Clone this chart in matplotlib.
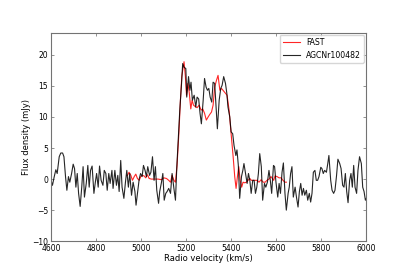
import matplotlib
matplotlib.use('agg')
from matplotlib import pyplot as plt

# AGCNr100482 spectrum (km/s, mJy)
AGC_VEL = [4603, 4607, 4615, 4622, 4628, 4637, 4644, 4652, 4658, 4665, 4671, 4678,
           4684, 4692, 4699, 4705, 4711, 4717, 4723, 4730, 4737, 4743, 4749, 4757,
           4764, 4770, 4776, 4783, 4791, 4797, 4803, 4810, 4816, 4823, 4831, 4837,
           4844, 4850, 4857, 4863, 4871, 4876, 4884, 4891, 4897, 4903, 4910, 4916,
           4924, 4931, 4937, 4944, 4950, 4958, 4965, 4973, 4978, 4986, 4992, 4998,
           5005, 5011, 5018, 5024, 5030, 5038, 5044, 5051, 5058, 5064, 5070, 5078,
           5083, 5091, 5097, 5103, 5110, 5116, 5123, 5131, 5138, 5146, 5153, 5159,
           5165, 5172, 5180, 5185, 5191, 5199, 5203, 5211, 5217, 5222, 5228, 5236,
           5243, 5249, 5256, 5262, 5268, 5276, 5282, 5289, 5295, 5301, 5307, 5314,
           5320, 5327, 5333, 5339, 5347, 5354, 5360, 5367, 5375, 5381, 5386, 5394,
           5400, 5407, 5413, 5421, 5426, 5432, 5438, 5446, 5452, 5457, 5463, 5471,
           5477, 5483, 5489, 5496, 5502, 5508, 5514, 5521, 5527, 5534, 5540, 5548,
           5554, 5561, 5568, 5574, 5580, 5588, 5593, 5599, 5607, 5613, 5619, 5626,
           5632, 5639, 5645, 5653, 5658, 5664, 5670, 5676, 5684, 5690, 5697, 5703,
           5709, 5715, 5721, 5727, 5734, 5740, 5747, 5753, 5759, 5765, 5772, 5778,
           5784, 5790, 5798, 5803, 5809, 5815, 5823, 5829, 5834, 5842, 5848, 5855,
           5861, 5868, 5874, 5882, 5888, 5895, 5901, 5907, 5913, 5919, 5926, 5932,
           5938, 5944, 5950, 5957, 5963, 5970, 5978, 5984, 5990, 5996, 6000]
AGC_FLUX = [-0.5, -1.0, 0.4, 1.5, 0.9, 3.6, 4.2, 4.2, 3.6, 0.4, -1.8, 0.4,
            -0.5, 0.9, 2.4, 1.7, -1.3, 0.9, -2.3, -4.4, -1.3, 2.0, -2.9, -0.7,
            2.2, -1.3, 1.4, 2.1, -2.3, -0.6, 0.9, -1.3, 2.1, -0.2, -1.0, 1.4,
            0.9, -1.8, 0.9, -0.7, 1.4, -1.5, 1.4, -1.0, 0.6, -2.0, 3.0, -1.3,
            -3.1, -0.5, 1.4, -1.3, 0.9, -2.6, -0.5, -2.0, -4.2, -1.8, 0.0, 0.9,
            0.4, 2.2, 1.4, 0.4, 2.0, 0.6, 1.1, 3.6, -0.2, 2.0, -1.8, -3.9,
            -2.0, -0.5, 0.9, -3.4, -2.3, -2.0, -1.5, -2.3, 0.9, -1.5, -3.4, 2.0,
            6.3, 11.0, 15.4, 18.6, 18.0, 17.8, 13.2, 16.5, 14.3, 15.6, 12.7, 13.5,
            11.6, 13.2, 12.9, 10.6, 8.9, 12.7, 16.2, 14.8, 14.3, 14.6, 13.2, 12.4,
            15.6, 15.4, 11.6, 8.1, 12.7, 14.6, 15.1, 16.5, 15.4, 13.8, 11.6, 10.0,
            7.6, 7.3, 5.4, 3.8, 4.7, 2.2, -3.1, 0.4, 1.4, 2.5, 1.1, -0.7,
            0.9, -0.2, -2.3, -0.2, -0.2, -2.3, -1.3, 0.9, 4.1, 2.0, -3.4, -0.7,
            -1.3, -0.5, 1.4, -0.2, -2.3, 2.2, 2.0, -0.5, -2.9, -0.7, -2.3, 1.1,
            2.6, -2.3, -5.0, -2.3, -1.3, 0.9, 2.0, -2.9, -1.3, -2.9, -4.5, -2.0,
            -0.7, -2.6, -1.5, -2.6, -1.8, -3.4, -2.3, -3.7, -2.3, 1.1, 1.4, -0.2,
            -0.2, 0.4, 1.9, 1.7, 0.9, 1.4, 1.1, 2.5, 3.8, -0.2, -1.8, -2.3,
            -1.8, 0.6, 3.2, 2.5, 1.7, -1.0, -1.3, 0.9, -2.0, -3.8, -0.2, 0.9,
            -1.3, 2.2, -1.3, -2.3, 1.4, 3.6, 2.5, -1.3, -2.0, -3.4, -3.1]

# FAST spectrum
FAST_VEL = [4940, 4947, 4955, 4962, 4970, 4977, 4984, 4992, 4999, 5007, 5014, 5021,
            5029, 5036, 5046, 5061, 5076, 5091, 5101, 5113, 5123, 5131, 5138, 5146,
            5153, 5160, 5168, 5175, 5181, 5187, 5191, 5197, 5202, 5208, 5214, 5221,
            5227, 5233, 5240, 5249, 5258, 5267, 5274, 5282, 5290, 5298, 5305, 5313,
            5320, 5327, 5335, 5342, 5350, 5357, 5364, 5373, 5382, 5391, 5400, 5409,
            5416, 5422, 5428, 5434, 5440, 5447, 5453, 5460, 5468, 5475, 5483, 5490,
            5497, 5506, 5515, 5524, 5533, 5542, 5551, 5559, 5568, 5577, 5583, 5589,
            5595, 5604, 5613, 5622, 5630, 5639, 5645]
FAST_FLUX = [0.6, 1.1, 0.6, -0.2, 0.4, 0.8, 0.1, -0.2, 0.4, 0.6, 0.5, 0.2,
             0.7, 0.1, 0.0, 0.0, 0.0, -0.1, 0.2, 0.1, -0.2, -0.5, 0.6, -0.2,
             -0.5, 2.2, 7.3, 12.7, 16.5, 18.0, 18.9, 16.5, 13.5, 15.4, 14.0, 11.3,
             12.7, 11.9, 11.7, 11.5, 11.9, 11.1, 11.3, 10.6, 9.5, 10.0, 10.4, 10.8,
             11.9, 14.8, 15.9, 16.7, 14.3, 14.6, 14.3, 13.9, 13.5, 11.1, 7.3, 3.6,
             0.4, -1.5, 0.4, 2.0, -0.2, -1.3, -0.5, -0.6, -0.5, -0.2, 0.1, -0.2,
             -0.2, -0.2, -0.2, -0.5, -0.1, -0.5, -0.5, -0.2, 0.0, 0.4, 0.1, -0.2,
             0.5, 0.4, 0.2, 0.2, -0.2, -0.5, -0.5]

X_TICKS = [4600, 4800, 5000, 5200, 5400, 5600, 5800, 6000]
Y_TICKS = [-10, -5, 0, 5, 10, 15, 20]


def draw_graph():
    fig = plt.figure(figsize=(4.07, 2.71), dpi=100)
    ax = fig.add_subplot(111)
    ax.plot(FAST_VEL, FAST_FLUX, color='red', lw=0.8, alpha=0.85, label='FAST')
    ax.plot(AGC_VEL, AGC_FLUX, color='black', lw=0.8, alpha=0.85,
            label='AGCNr100482')
    ax.set_xlim(4600, 6000)
    ax.set_ylim(-10, 23.6)
    ax.set_xticks(X_TICKS)
    ax.set_yticks(Y_TICKS)
    ax.tick_params(direction='in', top=True, right=True, labelsize=5.5,
                   length=2.5, width=0.5, color='0.4', pad=2)
    for spine in ax.spines.values():
        spine.set_color('0.45')
        spine.set_linewidth(0.8)
    ax.set_xlabel('Radio velocity (km/s)', fontsize=6, labelpad=1)
    ax.set_ylabel('Flux density (mJy)', fontsize=6, labelpad=1)
    ax.legend(loc='upper right', fontsize=5.6, handlelength=2.2,
              borderaxespad=0.3)
    fig.savefig('out.png')


draw_graph()
